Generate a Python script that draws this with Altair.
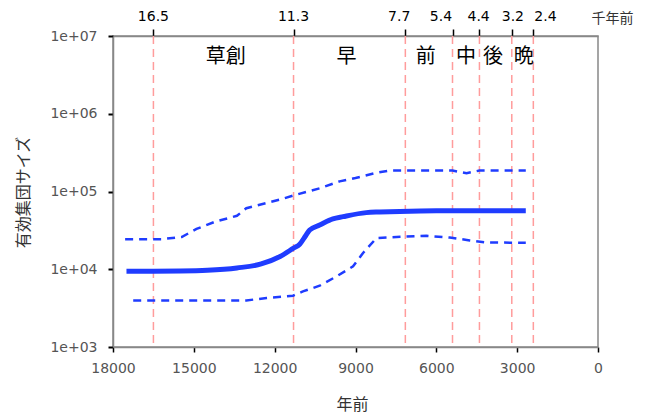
import altair as alt
import pandas as pd

# --- data ---
mean_years = [17500, 16500, 15500, 14500, 13400, 12500, 11800, 11300, 11070, 10850, 10700, 10330, 9840, 9460, 8600, 8100, 7360, 6000, 4000, 2680]
mean_vals = [9400, 9450, 9500, 9700, 10400, 11700, 14600, 18700, 21000, 27000, 32000, 37000, 44500, 47500, 53500, 54500, 55500, 56500, 56500, 56500]

upper_years = [17550, 16200, 15450, 14900, 14200, 13400, 13050, 11700, 11300, 10330, 9590, 9000, 8220, 7730, 5400, 4880, 4400, 2680]
upper_vals = [24400, 24400, 26000, 33000, 41000, 48700, 61000, 80500, 89000, 110000, 135000, 149000, 174000, 186000, 186000, 172000, 186000, 186000]

lower_years = [17250, 13050, 12300, 11320, 10950, 10330, 9710, 9090, 8720, 8220, 7480, 6370, 5500, 4760, 4140, 2680]
lower_vals = [3970, 3970, 4270, 4560, 5190, 6140, 8080, 10900, 16200, 25200, 26000, 26900, 25600, 23500, 22100, 21900]

# period boundaries (years before present) and their top labels
boundary_years = [16500, 11300, 7150, 5400, 4400, 3200, 2400]
boundary_labels = ["16.5", "11.3", "7.7", "5.4", "4.4", "3.2", "2.4"]
# where each top label sits (spread apart so they do not overlap)
boundary_label_years = [16500, 11300, 7380, 5830, 4430, 3160, 1950]
boundary_label_y = [1.75e7] * 7

period_years = [13820, 9330, 6390, 4900, 3900, 2760]
period_names = ["草創", "早", "前", "中", "後", "晩"]
period_y = [5.4e6] * 6

x_ticks = [18000, 15000, 12000, 9000, 6000, 3000, 0]
y_ticks = [1e3, 1e4, 1e5, 1e6, 1e7]

mean_df = pd.DataFrame({"year": mean_years, "value": mean_vals})
upper_df = pd.DataFrame({"year": upper_years, "value": upper_vals})
lower_df = pd.DataFrame({"year": lower_years, "value": lower_vals})
bound_df = pd.DataFrame({"year": boundary_years})
blabel_df = pd.DataFrame({"year": boundary_label_years, "label": boundary_labels, "value": boundary_label_y})
period_df = pd.DataFrame({"year": period_years, "name": period_names, "value": period_y})

LATIN = "DejaVu Sans"
CJK = "Noto Sans CJK JP"
BLUE = "#1f3cff"

xscale = alt.Scale(domain=[0, 18000], reverse=True, nice=False, zero=False)
yscale = alt.Scale(type="log", domain=[1e3, 1e7], nice=False)

y_axis = alt.Axis(
    values=y_ticks,
    labelExpr="'1e+0' + round(log(datum.value) / LN10)",
    labelColor="#555555", labelFontSize=14, labelFont=LATIN, labelPadding=11,
    labelOverlap=False,
    tickSize=5, tickColor="black", tickWidth=2,
    domainColor="#888888", domainWidth=1.5, grid=False,
    title="有効集団サイズ", titleFont=CJK, titleFontSize=16, titleFontWeight="normal",
    titleColor="#333333", titleAngle=270, titleX=-90, titleY=156,
    titleAlign="center", titleBaseline="middle",
)

y_enc = alt.Y("value:Q", scale=yscale, axis=y_axis)

top_axis = alt.Axis(
    orient="top", values=boundary_years, labels=False,
    tickSize=7, tickColor="black", tickWidth=1.5,
    domainColor="#888888", domainWidth=1.5, grid=False,
    title="千年前", titleFont=CJK, titleFontSize=14, titleFontWeight="normal",
    titleColor="#333333", titleX=499, titleY=-18, titleAngle=0,
    titleAlign="center", titleBaseline="middle",
)

bottom_axis = alt.Axis(
    orient="bottom", values=x_ticks, format="d",
    labelColor="#555555", labelFontSize=14, labelFont=LATIN, labelPadding=9,
    labelOverlap=False, labelFlush=False,
    tickSize=5, tickColor="black", tickWidth=1.5,
    domainColor="#888888", domainWidth=1.5, grid=False,
    title="年前", titleFont=CJK, titleFontSize=16, titleFontWeight="normal",
    titleColor="#333333", titleX=239, titleY=57,
    titleAlign="center", titleBaseline="middle",
)

rules = alt.Chart(bound_df).mark_rule(
    color="#ff9c9c", strokeWidth=1.5, strokeDash=[8, 5]
).encode(
    x=alt.X("year:Q", scale=xscale, axis=top_axis),
)

upper = alt.Chart(upper_df).mark_line(
    color=BLUE, strokeWidth=2.5, strokeDash=[8, 6]
).encode(
    x=alt.X("year:Q", scale=xscale, axis=bottom_axis),
    y=y_enc,
)

lower = alt.Chart(lower_df).mark_line(
    color=BLUE, strokeWidth=2.5, strokeDash=[8, 6]
).encode(
    x=alt.X("year:Q", scale=xscale, axis=None),
    y=y_enc,
)

mean = alt.Chart(mean_df).mark_line(
    color=BLUE, strokeWidth=5, interpolate="monotone"
).encode(
    x=alt.X("year:Q", scale=xscale, axis=None),
    y=y_enc,
)

periods = alt.Chart(period_df).mark_text(
    fontSize=20, font=CJK, color="black", baseline="middle", align="center"
).encode(
    x=alt.X("year:Q", scale=xscale, axis=None),
    y=y_enc,
    text="name:N",
)

top_labels = alt.Chart(blabel_df).mark_text(
    fontSize=14, font=LATIN, color="black", baseline="middle", align="center"
).encode(
    x=alt.X("year:Q", scale=xscale, axis=None),
    y=y_enc,
    text="label:N",
)

chart = alt.layer(rules, upper, lower, mean, periods, top_labels).resolve_axis(
    x="independent"
).properties(
    width=485, height=311,
    padding={"left": 105, "top": 28, "right": 40, "bottom": 66},
    autosize=alt.AutoSizeParams(type="none"),
    background="white",
).configure_view(
    stroke="#888888", strokeWidth=1.5
)

chart.save("out.html", embed_options={"renderer": "svg", "actions": False})
